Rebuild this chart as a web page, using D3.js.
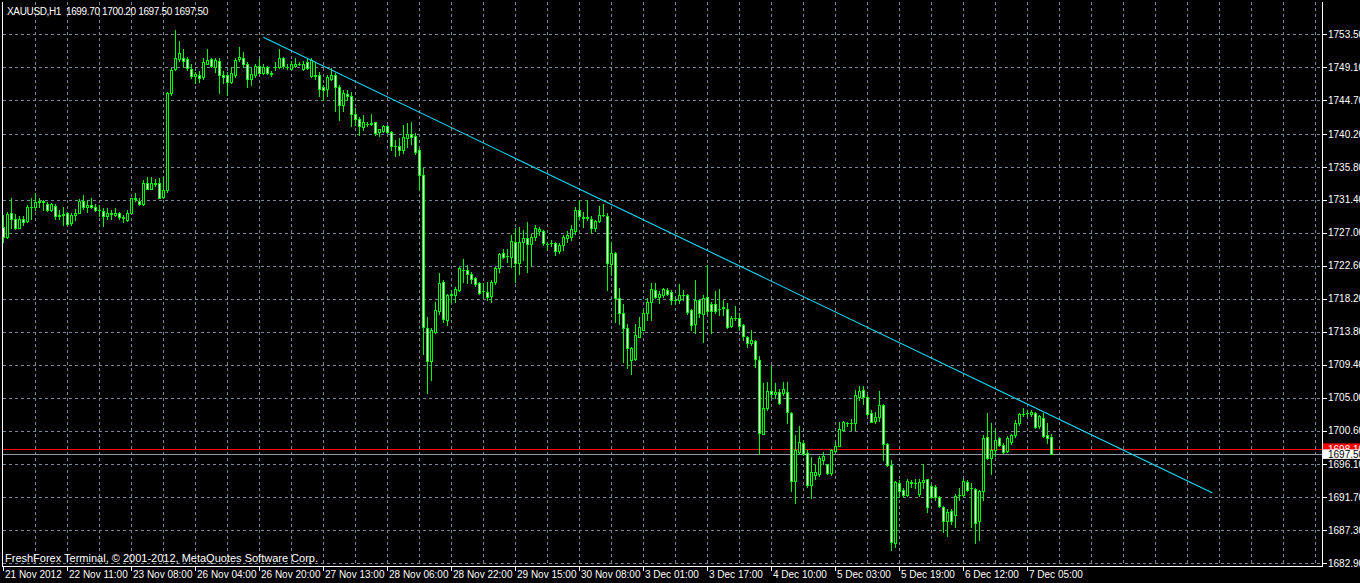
<!DOCTYPE html>
<html><head><meta charset="utf-8">
<script src="https://cdn.jsdelivr.net/npm/d3@7"></script>
<style>body{margin:0;background:#000;overflow:hidden} svg{display:block} text{white-space:pre}</style>
</head><body>
<svg id="c" width="1360" height="583"></svg>
<script>
const symbolTitle = "XAUUSD,H1  1699.70 1700.20 1697.50 1697.50";
const copyright = "FreshForex Terminal, \u00A9 2001-2012, MetaQuotes Software Corp.";
const timeLabels = ["21 Nov 2012","22 Nov 11:00","23 Nov 08:00","26 Nov 04:00","26 Nov 20:00","27 Nov 13:00","28 Nov 06:00","28 Nov 22:00","29 Nov 15:00","30 Nov 08:00","3 Dec 01:00","3 Dec 17:00","4 Dec 10:00","5 Dec 03:00","5 Dec 19:00","6 Dec 12:00","7 Dec 05:00"];
const timeLabelBars = [0,16,32,48,64,80,96,112,128,144,160,176,192,208,224,240,256];
const priceTicks = [1753.50,1749.10,1744.70,1740.20,1735.80,1731.40,1727.00,1722.60,1718.20,1713.80,1709.40,1705.00,1700.60,1696.10,1691.70,1687.30,1682.90];

const open = [
1727.8,1726.5,1729.6,1728.9,1727.7,1728.9,1728.6,1730.5,1730.5,1731.1,
1731.2,1730.9,1730.0,1730.6,1729.2,1729.4,1729.7,1728.3,1729.4,1729.7,
1731.3,1730.5,1730.7,1730.4,1730.0,1729.9,1729.3,1729.6,1729.4,1729.6,
1729.1,1728.7,1729.7,1731.6,1731.3,1730.9,1733.6,1732.9,1733.7,1733.6,
1731.8,1732.7,1745.6,1748.9,1750.2,1750.3,1750.2,1748.9,1748.0,1748.1,
1747.8,1749.6,1750.2,1749.2,1749.9,1748.1,1748.1,1747.2,1748.1,1750.2,
1750.4,1749.5,1747.5,1748.1,1749.3,1748.3,1749.2,1748.4,1749.1,1749.2,
1750.3,1749.2,1748.9,1749.3,1749.6,1748.9,1749.8,1748.0,1748.1,1748.1,
1746.4,1746.2,1747.6,1748.1,1746.4,1744.1,1745.5,1745.2,1742.9,1742.2,
1741.1,1741.5,1741.5,1741.8,1740.4,1740.6,1741.3,1740.4,1738.6,1738.6,
1738.1,1739.6,1740.2,1739.9,1738.0,1734.7,1714.3,1709.9,1713.8,1716.6,
1720.5,1715.4,1718.7,1718.7,1719.4,1722.1,1722.1,1721.5,1721.0,1720.3,
1719.2,1719.1,1718.6,1720.5,1722.3,1724.3,1723.9,1723.8,1725.8,1723.0,
1725.8,1726.3,1725.5,1726.4,1727.3,1727.2,1725.5,1725.6,1725.7,1724.6,
1725.4,1726.3,1726.4,1727.3,1730.0,1729.1,1729.0,1728.9,1727.6,1728.6,
1729.4,1729.2,1722.9,1724.3,1718.3,1716.3,1714.3,1710.0,1710.1,1713.1,
1714.1,1716.3,1717.8,1719.4,1718.5,1718.7,1719.4,1719.1,1718.0,1718.0,
1718.7,1718.7,1716.7,1714.9,1718.1,1716.2,1718.4,1717.5,1717.5,1716.9,
1717.0,1716.9,1714.6,1715.7,1715.6,1714.7,1713.1,1712.3,1712.6,1710.0,
1700.2,1703.6,1705.9,1705.5,1705.7,1705.6,1705.8,1703.0,1693.9,1697.8,
1699.0,1697.6,1693.3,1694.7,1694.8,1696.7,1696.1,1694.9,1697.9,1698.6,
1700.7,1701.6,1701.6,1701.6,1705.1,1706.0,1705.1,1702.9,1701.9,1702.4,
1704.0,1698.8,1696.0,1685.6,1693.6,1692.7,1692.0,1693.7,1693.6,1692.2,
1693.7,1694.1,1693.2,1693.1,1691.7,1690.4,1688.5,1689.9,1689.3,1692.0,
1692.0,1693.8,1692.9,1692.8,1688.5,1692.5,1699.7,1696.9,1698.0,1699.6,
1698.7,1697.9,1699.1,1700.0,1701.6,1702.8,1702.9,1702.8,1703.0,1701.2,
1702.3,1700.0,1699.7];

const high = [
1729.4,1729.8,1731.7,1729.5,1729.3,1729.2,1730.7,1731.7,1732.3,1731.6,
1731.4,1731.1,1731.0,1730.8,1730.0,1730.5,1729.8,1729.6,1730.2,1731.5,
1732.0,1731.4,1731.6,1730.9,1730.7,1730.3,1730.3,1730.0,1730.3,1729.8,
1729.4,1730.0,1731.7,1732.3,1731.6,1734.1,1734.5,1734.5,1734.2,1734.3,
1734.5,1745.8,1749.0,1754.1,1752.6,1751.5,1750.5,1749.5,1748.5,1748.6,
1750.4,1751.6,1750.3,1750.4,1750.4,1748.6,1748.5,1749.2,1750.4,1751.8,
1751.2,1749.8,1749.0,1749.6,1750.4,1749.5,1749.3,1748.6,1749.8,1751.5,
1750.5,1749.6,1749.9,1750.3,1749.8,1749.9,1750.3,1750.4,1749.8,1748.5,
1746.7,1748.1,1749.0,1748.3,1746.7,1746.1,1746.1,1745.8,1743.6,1742.5,
1742.7,1741.8,1742.9,1741.8,1740.9,1741.4,1741.4,1740.6,1739.4,1739.7,
1741.4,1741.6,1741.8,1740.3,1738.3,1735.6,1715.8,1714.3,1717.8,1721.6,
1720.7,1718.9,1719.4,1719.8,1722.5,1723.5,1722.7,1721.8,1721.1,1720.5,
1720.3,1720.5,1720.7,1722.5,1724.3,1724.9,1724.9,1726.7,1727.6,1727.8,
1727.4,1728.4,1726.9,1728.0,1727.8,1727.4,1725.8,1726.0,1725.8,1725.6,
1726.7,1727.2,1728.0,1730.5,1731.4,1729.8,1731.4,1729.2,1728.7,1730.6,
1730.9,1729.6,1725.8,1724.5,1719.6,1717.5,1714.8,1711.8,1714.8,1715.8,
1716.9,1718.3,1720.3,1720.3,1719.3,1719.7,1719.7,1719.4,1718.5,1720.2,
1719.4,1718.9,1716.9,1720.7,1718.2,1718.7,1722.7,1717.8,1719.2,1719.5,
1718.1,1717.6,1715.9,1717.2,1716.3,1714.8,1713.2,1714.0,1712.7,1710.6,
1706.9,1707.1,1709.2,1707.0,1706.1,1707.1,1707.1,1703.1,1700.0,1701.2,
1699.4,1698.0,1697.1,1696.2,1697.2,1697.8,1696.2,1698.1,1699.1,1701.7,
1701.9,1701.8,1702.2,1706.0,1706.6,1706.5,1705.4,1703.3,1703.1,1705.9,
1704.2,1699.0,1696.7,1693.9,1694.0,1693.0,1694.1,1694.0,1694.1,1694.1,
1696.1,1694.2,1693.5,1693.3,1691.9,1690.5,1690.1,1690.2,1692.2,1692.9,
1694.1,1694.0,1693.6,1693.0,1692.7,1700.0,1702.9,1701.6,1700.9,1699.7,
1699.0,1699.9,1700.1,1702.0,1703.0,1703.6,1703.4,1703.4,1703.1,1702.7,
1702.9,1701.6,1700.2];

const low = [
1725.8,1726.3,1727.6,1727.5,1727.6,1728.1,1728.5,1728.9,1730.0,1730.5,
1730.0,1729.9,1729.9,1728.9,1728.8,1728.1,1728.0,1728.1,1728.7,1729.6,
1730.2,1729.8,1730.3,1729.9,1729.3,1727.9,1728.9,1728.8,1729.2,1728.9,
1728.4,1728.6,1729.6,1731.2,1730.7,1730.7,1732.8,1732.9,1733.2,1731.6,
1731.6,1732.5,1745.4,1748.7,1749.9,1749.2,1748.7,1747.7,1747.0,1747.2,
1747.6,1749.5,1749.2,1748.5,1745.6,1747.0,1745.4,1747.0,1747.8,1749.9,
1749.2,1746.5,1746.7,1747.8,1748.3,1748.2,1748.2,1748.0,1748.7,1749.0,
1749.0,1748.9,1748.9,1749.2,1749.4,1748.8,1748.9,1747.8,1747.6,1745.2,
1744.7,1745.3,1747.4,1743.2,1742.1,1743.2,1744.7,1741.2,1741.4,1740.1,
1740.7,1741.2,1741.4,1740.1,1739.9,1740.5,1740.3,1738.1,1737.2,1737.4,
1737.7,1738.5,1738.9,1737.5,1732.7,1710.8,1705.6,1707.4,1713.6,1716.2,
1715.1,1714.7,1717.8,1717.8,1719.2,1720.5,1720.3,1720.3,1719.9,1718.9,
1718.5,1718.1,1717.8,1720.2,1721.8,1723.6,1723.1,1722.5,1720.5,1721.5,
1723.4,1721.8,1722.6,1726.0,1726.7,1725.4,1724.7,1725.2,1724.0,1724.3,
1724.7,1725.8,1726.1,1726.9,1728.9,1727.8,1728.7,1727.0,1727.3,1728.5,
1729.2,1719.4,1721.4,1715.1,1714.9,1709.8,1708.9,1708.2,1710.0,1713.1,
1714.0,1715.4,1715.4,1718.3,1717.7,1718.5,1718.7,1717.5,1717.5,1717.6,
1718.0,1716.2,1714.0,1713.6,1715.8,1712.5,1716.2,1713.6,1716.3,1716.0,
1716.0,1714.3,1714.4,1715.4,1714.0,1712.7,1711.8,1712.0,1709.1,1697.5,
1700.1,1703.3,1705.1,1704.9,1704.2,1705.4,1701.6,1692.5,1691.0,1697.5,
1697.4,1693.1,1691.6,1694.2,1694.5,1696.2,1694.8,1694.7,1697.8,1698.5,
1700.5,1701.2,1700.7,1700.7,1704.7,1704.2,1702.7,1701.7,1701.6,1701.9,
1696.7,1695.9,1684.7,1685.1,1691.8,1691.7,1691.9,1693.1,1693.0,1691.9,
1693.0,1689.8,1691.6,1691.4,1690.4,1687.1,1686.5,1688.1,1687.8,1691.3,
1691.9,1692.6,1687.7,1685.6,1686.0,1691.3,1696.8,1694.8,1697.2,1698.5,
1697.6,1697.8,1698.8,1699.8,1701.4,1702.5,1702.6,1702.5,1701.0,1701.0,
1699.8,1698.9,1697.5];

const close = [
1726.5,1729.5,1728.8,1727.7,1728.9,1728.4,1730.5,1730.4,1731.1,1731.2,
1731.1,1730.0,1730.8,1729.2,1729.4,1729.5,1728.2,1729.4,1729.7,1731.3,
1730.5,1730.7,1730.5,1730.0,1730.1,1729.2,1729.6,1729.5,1729.7,1729.1,
1729.0,1729.7,1731.6,1731.5,1730.9,1733.7,1732.9,1733.6,1733.5,1731.7,
1732.7,1745.6,1748.7,1750.3,1751.0,1750.0,1749.0,1748.0,1748.2,1747.7,
1749.8,1750.1,1749.3,1750.1,1748.1,1747.8,1747.1,1748.3,1750.1,1750.5,
1749.5,1747.5,1748.2,1749.3,1748.4,1749.2,1748.3,1748.2,1749.2,1750.4,
1749.3,1749.2,1749.6,1749.5,1749.6,1749.6,1749.0,1750.1,1748.0,1746.2,
1746.0,1747.8,1748.1,1746.4,1744.1,1745.6,1745.2,1742.9,1742.2,1741.2,
1741.8,1741.5,1741.7,1740.3,1740.8,1741.3,1740.5,1738.6,1738.6,1738.1,
1739.8,1740.2,1739.8,1737.8,1734.7,1714.5,1709.9,1714.0,1716.7,1720.3,
1715.5,1718.7,1718.9,1719.5,1722.3,1722.0,1721.5,1720.9,1720.2,1719.0,
1719.3,1718.5,1720.5,1722.3,1724.2,1723.8,1723.9,1725.9,1723.0,1725.8,
1726.3,1725.5,1726.4,1727.6,1727.5,1725.6,1725.5,1725.7,1724.6,1725.4,
1726.5,1726.7,1727.5,1730.1,1729.2,1729.0,1729.1,1727.7,1728.6,1729.4,
1729.4,1723.0,1724.3,1718.3,1716.3,1714.3,1711.6,1711.6,1713.4,1714.4,
1716.3,1717.8,1719.5,1718.4,1718.8,1719.5,1718.9,1718.0,1718.0,1718.7,
1718.7,1716.5,1714.7,1718.1,1716.3,1718.3,1716.6,1716.6,1716.6,1716.9,
1717.1,1714.5,1715.7,1715.7,1714.6,1713.2,1712.3,1712.7,1710.1,1700.3,
1703.6,1705.9,1705.5,1705.8,1704.3,1706.1,1703.1,1693.9,1698.0,1699.1,
1697.5,1693.3,1695.1,1695.1,1696.9,1697.2,1694.9,1698.0,1698.6,1700.8,
1701.7,1701.6,1701.6,1705.4,1705.9,1705.1,1702.8,1701.8,1702.4,1704.0,
1698.8,1696.0,1685.8,1693.7,1692.5,1692.0,1693.9,1693.6,1693.6,1693.8,
1694.0,1690.4,1691.7,1691.7,1690.5,1688.5,1689.8,1688.5,1691.9,1692.0,
1693.9,1692.7,1692.9,1688.3,1692.5,1699.6,1696.9,1698.0,1699.4,1698.7,
1697.8,1699.6,1700.0,1701.6,1702.8,1702.8,1702.9,1703.1,1701.1,1702.5,
1699.9,1699.6,1697.5];

const trendBars = [65, 302.2];
const trendPrices = [1753.1, 1692.3];
const bidPrice = 1697.50;
const askPrice = 1698.10;

const W = 1360, H = 583;
const L = 2, R = 1322, T = 2, B = 566;
const FONT = "'Liberation Sans', Arial, sans-serif";

const svg = d3.select("#c");
svg.append("rect").attr("width", W).attr("height", H).attr("fill", "#000");

const x = d3.scaleLinear().domain([0, 329.675]).range([3.3, 1322]);
const y = d3.scaleLinear().domain([1682.9, 1753.5]).range([563.3, 34.3]);

svg.append("clipPath").attr("id", "plot").append("rect")
  .attr("x", L + 1).attr("y", T).attr("width", R - L - 1).attr("height", B - T);

// grid
const grid = svg.append("g").attr("stroke", "#778899").attr("stroke-width", 1)
  .attr("stroke-dasharray", "3,3").attr("shape-rendering", "crispEdges");
grid.selectAll(".hg").data(priceTicks).join("line")
  .attr("x1", L + 1).attr("x2", R)
  .attr("y1", d => Math.round(y(d)) + 0.5).attr("y2", d => Math.round(y(d)) + 0.5);
const vBars = d3.range(8, 330, 8);
grid.selectAll(".vg").data(vBars).join("line")
  .attr("x1", d => Math.round(x(d)) + 0.5).attr("x2", d => Math.round(x(d)) + 0.5)
  .attr("y1", T).attr("y2", B);

// price lines
const pl = svg.append("g").attr("shape-rendering", "crispEdges");
pl.append("line").attr("x1", L + 1).attr("x2", R)
  .attr("y1", Math.round(y(askPrice)) + 0.5).attr("y2", Math.round(y(askPrice)) + 0.5)
  .attr("stroke", "#ff0000");
pl.append("line").attr("x1", L + 1).attr("x2", R)
  .attr("y1", Math.round(y(bidPrice)) + 0.5).attr("y2", Math.round(y(bidPrice)) + 0.5)
  .attr("stroke", "#8c9aa8");

// candles
const bars = d3.range(open.length).map(i => ({i, o: open[i], h: high[i], l: low[i], c: close[i]}));
const cg = svg.append("g").attr("clip-path", "url(#plot)").attr("shape-rendering", "crispEdges");
bars.forEach(d => {
  const cx = Math.round(x(d.i));
  const yh = Math.round(y(d.h)), yl = Math.round(y(d.l));
  cg.append("rect").attr("x", cx).attr("y", yh).attr("width", 1).attr("height", Math.max(1, yl - yh + 1)).attr("fill", "#00ff00");
  const top = Math.round(y(Math.max(d.o, d.c))), bot = Math.round(y(Math.min(d.o, d.c)));
  if (bot - top < 1) {
    cg.append("rect").attr("x", cx - 1).attr("y", top).attr("width", 3).attr("height", 1).attr("fill", "#00ff00");
  } else {
    cg.append("rect").attr("x", cx - 1).attr("y", top).attr("width", 3).attr("height", bot - top + 1).attr("fill", "#00ff00");
    if (bot - top >= 2) {
      cg.append("rect").attr("x", cx).attr("y", top + 1).attr("width", 1).attr("height", bot - top - 1)
        .attr("fill", d.c < d.o ? "#ffffff" : "#000000");
    }
  }
});

// trend line
svg.append("line").attr("clip-path", "url(#plot)")
  .attr("x1", x(trendBars[0])).attr("y1", y(trendPrices[0]))
  .attr("x2", x(trendBars[1])).attr("y2", y(trendPrices[1]))
  .attr("stroke", "#14dcf8").attr("stroke-width", 1.1);

// frame
const fr = svg.append("g").attr("stroke", "#ffffff").attr("shape-rendering", "crispEdges");
fr.append("line").attr("x1", L + 0.5).attr("x2", L + 0.5).attr("y1", T).attr("y2", B + 1);
fr.append("line").attr("x1", R + 0.5).attr("x2", R + 0.5).attr("y1", T).attr("y2", B + 1);
fr.append("line").attr("x1", L).attr("x2", R + 1).attr("y1", B + 0.5).attr("y2", B + 0.5);

// right axis
const ra = svg.append("g");
ra.selectAll("line").data(priceTicks).join("line")
  .attr("shape-rendering", "crispEdges")
  .attr("x1", R + 1).attr("x2", R + 5)
  .attr("y1", d => Math.round(y(d)) + 0.5).attr("y2", d => Math.round(y(d)) + 0.5)
  .attr("stroke", "#fff");
ra.selectAll("text").data(priceTicks).join("text")
  .attr("x", R + 6).attr("y", d => y(d) + 3.6)
  .attr("fill", "#fff").attr("font-family", FONT).attr("font-size", "10px")
  .text(d => d.toFixed(2));

// price labels
ra.append("rect").attr("x", R + 1).attr("y", y(askPrice) - 6).attr("width", 40).attr("height", 11).attr("fill", "#ff0000");
ra.append("text").attr("x", R + 6).attr("y", y(askPrice) + 3.6).attr("fill", "#fff")
  .attr("font-family", FONT).attr("font-size", "10px").text(askPrice.toFixed(2));
ra.append("rect").attr("x", R + 1).attr("y", y(bidPrice) - 4.5).attr("width", 40).attr("height", 9.5).attr("fill", "#ffffff");
ra.append("text").attr("x", R + 6).attr("y", y(bidPrice) + 3.6).attr("fill", "#000")
  .attr("font-family", FONT).attr("font-size", "10px").text(bidPrice.toFixed(2));

// bottom axis
const ba = svg.append("g");
ba.selectAll("line").data(timeLabelBars).join("line")
  .attr("shape-rendering", "crispEdges")
  .attr("x1", d => Math.round(x(d)) + 0.5).attr("x2", d => Math.round(x(d)) + 0.5)
  .attr("y1", B + 1).attr("y2", B + 5).attr("stroke", "#fff");
ba.selectAll("text").data(timeLabels).join("text")
  .attr("x", (d, k) => Math.round(x(timeLabelBars[k])) + 2)
  .attr("y", 578)
  .attr("fill", "#fff").attr("font-family", FONT).attr("font-size", "10px")
  .text(d => d);

// title and copyright
svg.append("text").attr("x", 7).attr("y", 15).attr("fill", "#fff")
  .attr("font-family", FONT).attr("font-size", "10px").attr("letter-spacing", "-0.35px")
  .text(symbolTitle);
svg.append("text").attr("x", 5).attr("y", 562).attr("fill", "#fff")
  .attr("font-family", FONT).attr("font-size", "11px").text(copyright);
</script>
</body></html>
